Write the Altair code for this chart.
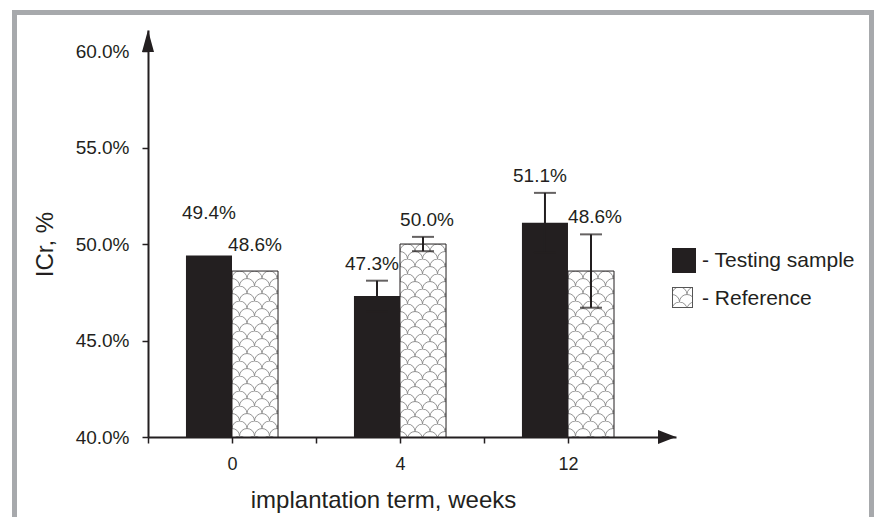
import base64
import altair as alt
import pandas as pd

# ---- data ----
weeks = ["0", "4", "12"]
series = ["Testing sample", "Reference"]
testing = [49.4, 47.3, 51.1]
testing_err = [0.0, 0.8, 1.55]
reference = [48.6, 50.0, 48.6]
reference_err = [0.0, 0.37, 1.9]
y_ticks = [40, 45, 50, 55, 60]

# ---- layout constants ----
W, H = 528, 407
Y_MIN, Y_MAX = 40, 61.09
X_MAX = 3.143
BAR = 0.274
INK = "#231f20"
FRAME = "#a7a9ac"
FONT = "Liberation Sans"

rows = []
for i, w in enumerate(weeks):
    rows.append({"week": w, "idx": i, "series": series[0], "side": -1,
                 "value": testing[i], "err": testing_err[i]})
    rows.append({"week": w, "idx": i, "series": series[1], "side": 0,
                 "value": reference[i], "err": reference_err[i]})
df = pd.DataFrame(rows)

def pattern_url(w, h, border=False):
    path = ("M0,7.5 A7.5,7.5 0 0 1 15,7.5 "
            "M-7.5,15 A7.5,7.5 0 0 1 7.5,15 "
            "M7.5,15 A7.5,7.5 0 0 1 22.5,15")
    b = (f'<rect x="0.5" y="0.5" width="{w-1}" height="{h-1}" fill="none" '
         f'stroke="#555" stroke-width="1"/>') if border else ""
    svg = (f'<svg xmlns="http://www.w3.org/2000/svg" width="{w}" height="{h}">'
           f'<defs><pattern id="p" width="15" height="15" patternUnits="userSpaceOnUse">'
           f'<path d="{path}" fill="none" stroke="#858585" stroke-width="0.9"/>'
           f'</pattern></defs>'
           f'<rect width="{w}" height="{h}" fill="white"/>'
           f'<rect width="{w}" height="{h}" fill="url(#p)"/>{b}</svg>')
    return "data:image/svg+xml;base64," + base64.b64encode(svg.encode()).decode()

BAR_IMG = pattern_url(46, 420)
LEG_IMG = pattern_url(21, 21, border=True)

label_expr = " : ".join(
    f"datum.value == {i + 0.5} ? '{w}'" for i, w in enumerate(weeks)) + " : ''"

x_scale = alt.Scale(domain=[0, X_MAX], nice=False, zero=False)
y_scale = alt.Scale(domain=[Y_MIN, Y_MAX], nice=False, zero=False)

x_axis = alt.Axis(values=[0, 0.5, 1, 1.5, 2, 2.5], labelExpr=label_expr,
                  tickSize=6, tickWidth=1.5, tickColor=INK, domainColor=INK,
                  domainWidth=2, labelFontSize=18, labelPadding=12, labelFont=FONT,
                  labelColor=INK, labelOverlap=False, labelFlush=False, grid=False,
                  title="implantation term, weeks", titleFont=FONT, titleFontSize=24,
                  titleFontWeight="normal", titleColor=INK, titleX=235, titleY=63,
                  titleBaseline="middle", titleAlign="center")
y_axis = alt.Axis(values=y_ticks, labelExpr="format(datum.value, '.1f') + '%'",
                  tickSize=6, tickWidth=1.5, tickColor=INK, domainColor=INK,
                  domainWidth=2, labelFontSize=19, labelPadding=13, labelFont=FONT,
                  labelColor=INK, labelOverlap=False, labelFlush=False, grid=False,
                  title="ICr, %", titleFont=FONT, titleFontSize=24,
                  titleFontWeight="normal", titleColor=INK, titleX=-103, titleY=214,
                  titleAngle=270, titleBaseline="middle", titleAlign="center")

def X(field):
    return alt.X(field, scale=x_scale, axis=x_axis)

def Y(field):
    return alt.Y(field, scale=y_scale, axis=y_axis)

base = alt.Chart(df).transform_calculate(
    xs=f"datum.idx + 0.5 + datum.side * {BAR}",
    xe=f"datum.idx + 0.5 + datum.side * {BAR} + {BAR}",
    xm=f"datum.idx + 0.5 + datum.side * {BAR} + {BAR / 2}",
    hi="datum.value + datum.err",
    lo="datum.value - datum.err",
    lab="format(datum.value, '.1f') + '%'",
)

one = pd.DataFrame({"a": [0]})

frame = alt.Chart(one).mark_rect(fillOpacity=0, stroke=FRAME, strokeWidth=5).encode(
    x=alt.value(-133.5), x2=alt.value(723.5), y=alt.value(-17.5), y2=alt.value(540))

test_bars = base.transform_filter(f"datum.series == '{series[0]}'").mark_bar(
    color=INK).encode(x=X("xs:Q"), x2="xe:Q", y=Y("value:Q"), y2=alt.datum(Y_MIN))

ref_img = base.transform_filter(f"datum.series == '{series[1]}'").mark_image(
    width=46, height=420, align="center", baseline="top", aspect=False,
    clip=True).encode(x=X("xm:Q"), y=Y("value:Q"), url=alt.value(BAR_IMG))

ref_outline = base.transform_filter(f"datum.series == '{series[1]}'").mark_bar(
    fillOpacity=0, stroke=INK, strokeWidth=1).encode(
    x=X("xs:Q"), x2="xe:Q", y=Y("value:Q"), y2=alt.datum(Y_MIN))

errs = base.transform_filter("datum.err > 0")
err_rule = errs.mark_rule(color=INK, strokeWidth=2).encode(
    x=X("xm:Q"), y=Y("lo:Q"), y2="hi:Q")
cap_hi = errs.mark_tick(orient="horizontal", size=22, thickness=2, color=INK).encode(
    x=X("xm:Q"), y=Y("hi:Q"))
cap_lo = errs.mark_tick(orient="horizontal", size=22, thickness=2, color=INK).encode(
    x=X("xm:Q"), y=Y("lo:Q"))

def labels(flt, dy, dx=0):
    return base.transform_filter(flt).mark_text(
        font=FONT, fontSize=19, color=INK, baseline="middle", align="center",
        dy=dy, dx=dx).encode(x=X("xm:Q"), y=Y("hi:Q"), text="lab:N")

lab_err_t = labels(f"datum.err > 0 && datum.series == '{series[0]}'", -17, -5)
lab_err_r = labels(f"datum.err > 0 && datum.series == '{series[1]}'", -17, 4)
lab_t0 = labels(f"datum.err == 0 && datum.series == '{series[0]}'", -43)
lab_r0 = labels(f"datum.err == 0 && datum.series == '{series[1]}'", -26)

y_arrow = alt.Chart(one).mark_point(
    shape="M0,0L1.2,4.4L-1.2,4.4Z", size=100, filled=True, fill=INK,
    strokeWidth=0, opacity=1).encode(x=alt.value(0), y=alt.value(0))
x_arrow = alt.Chart(one).mark_point(
    shape="M0,0L-3.6,-1.4L-3.6,1.4Z", size=100, filled=True, fill=INK,
    strokeWidth=0, opacity=1).encode(x=alt.value(W), y=alt.value(H))

leg_black = alt.Chart(one).mark_rect(color=INK).encode(
    x=alt.value(524), x2=alt.value(548), y=alt.value(218), y2=alt.value(243))
leg_pat = alt.Chart(one).mark_image(width=21, height=21, align="left",
                                    baseline="top").encode(
    x=alt.value(524), y=alt.value(257), url=alt.value(LEG_IMG))
leg_t1 = alt.Chart(one).mark_text(font=FONT, fontSize=21, color=INK, align="left",
                                  baseline="middle", text=f"- {series[0]}").encode(
    x=alt.value(554), y=alt.value(231))
leg_t2 = alt.Chart(one).mark_text(font=FONT, fontSize=21, color=INK, align="left",
                                  baseline="middle", text=f"- {series[1]}").encode(
    x=alt.value(554), y=alt.value(269))

chart = alt.layer(
    frame, test_bars, ref_img, ref_outline, err_rule, cap_hi, cap_lo,
    lab_err_t, lab_err_r, lab_t0, lab_r0, y_arrow, x_arrow,
    leg_black, leg_pat, leg_t1, leg_t2,
).properties(
    width=W, height=H,
    autosize=alt.AutoSizeParams(type="none"),
    padding={"left": 140, "top": 22, "right": 198, "bottom": 80},
    background="white",
).configure_view(strokeWidth=0)

chart.save("out.html", embed_options={"renderer": "svg", "actions": False})
